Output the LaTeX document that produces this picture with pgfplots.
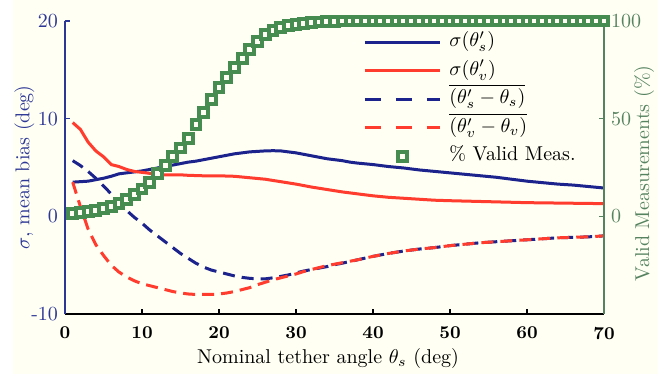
\documentclass[border=0pt]{standalone}
\usepackage{pgfplots}
\pgfplotsset{compat=1.18}
\definecolor{mblue}{RGB}{28,35,140}
\definecolor{tblue}{RGB}{45,55,150}
\definecolor{mred}{RGB}{255,60,45}
\definecolor{mgreen}{RGB}{70,140,80}
\definecolor{tgreen}{RGB}{85,130,95}
\definecolor{cream}{RGB}{255,255,243}
\pgfplotsset{
  linelegend/.style={legend image code/.code={\draw[##1] (0pt,0pt) -- (37.5pt,0pt);}},
  markonlylegend/.style={legend image code/.code={\path (0pt,0pt) (37.5pt,0pt); \draw[##1] plot coordinates {(18.75pt,0pt)};}},
}
\begin{document}
\begin{tikzpicture}
\useasboundingbox (-32.5pt,-30pt) rectangle (301pt,157pt);
\fill[cream] (-26pt,-30pt) rectangle (296.5pt,157pt);
\begin{axis}[
  at={(0pt,0pt)}, anchor=south west,
  scale only axis, width=269.5pt, height=146.5pt,
  xmin=0, xmax=70, ymin=-10, ymax=20,
  axis x line*=bottom, axis y line*=left,
  x axis line style={black, line width=0.6pt},
  y axis line style={tblue, line width=0.6pt},
  tick align=inside, major tick length=2.5pt,
  x tick style={black, line width=0.6pt},
  y tick style={tblue, line width=0.6pt},
  xtick={0,10,...,70},
  xticklabels={0,10,20,30,40,50,60,70},
  xticklabel style={font=\bfseries\fontsize{9}{10}\selectfont, yshift=-3pt},
  ytick={-10,0,10,20},
  yticklabels={-10,0,10,20},
  yticklabel style={text=tblue},
  xlabel={Nominal tether angle $\theta_s$ (deg)},
  xlabel style={at={(axis description cs:0.488,0)}, anchor=base, yshift=-24.5pt},
  ylabel={$\sigma$, mean bias (deg)},
  ylabel style={at={(axis description cs:0,0.5)}, anchor=base, yshift=17.75pt, text=tblue},
  clip=false,
]
\addplot[mblue, line width=1.5pt] coordinates {
(1,3.5) (2,3.55) (3,3.6) (4,3.75) (5,3.9) (6,4.1) (7,4.35) (8,4.45) (9,4.55) (10,4.65)
(11,4.8) (12,4.95) (13,5.1) (14,5.25) (15,5.4) (16,5.55) (17,5.65) (18,5.8) (19,5.95) (20,6.1)
(21,6.25) (22,6.4) (23,6.5) (24,6.6) (25,6.65) (26,6.7) (27,6.72) (28,6.7) (29,6.6) (30,6.5)
(31,6.35) (32,6.2) (33,6.05) (34,5.9) (35,5.8) (36,5.7) (37,5.55) (38,5.45) (40,5.3) (42,5.1)
(44,4.95) (46,4.75) (48,4.6) (50,4.45) (52,4.3) (54,4.15) (56,4.0) (58,3.8) (60,3.6) (62,3.45)
(64,3.3) (66,3.2) (68,3.05) (70,2.9)};
\addplot[mred, line width=1.5pt] coordinates {
(1,9.6) (2,8.9) (3,7.6) (4,6.7) (5,6.1) (6,5.3) (7,5.1) (8,4.8) (9,4.6) (10,4.5)
(11,4.4) (12,4.3) (13,4.25) (14,4.25) (15,4.25) (16,4.2) (18,4.15) (20,4.15) (22,4.1) (24,3.95)
(26,3.8) (28,3.55) (30,3.3) (32,3.0) (34,2.75) (36,2.5) (38,2.3) (40,2.1) (42,1.95) (44,1.85)
(46,1.75) (48,1.65) (50,1.6) (55,1.5) (60,1.4) (65,1.35) (70,1.3)};
\addplot[mblue, line width=1.5pt, dash pattern=on 6pt off 3.5pt] coordinates {
(1,5.7) (2,5.2) (3,4.6) (4,3.9) (5,3.1) (6,2.3) (7,1.4) (8,0.6) (9,-0.1) (10,-0.7)
(11,-1.4) (12,-2.0) (13,-2.6) (14,-3.2) (15,-3.8) (16,-4.3) (17,-4.8) (18,-5.2) (19,-5.5) (20,-5.7)
(21,-5.9) (22,-6.1) (23,-6.25) (24,-6.35) (25,-6.4) (26,-6.4) (27,-6.3) (28,-6.15) (29,-6.0) (30,-5.8)
(31,-5.6) (32,-5.45) (33,-5.3) (34,-5.15) (35,-4.95) (36,-4.8) (38,-4.45) (40,-4.1) (42,-3.8) (44,-3.55)
(46,-3.35) (48,-3.2) (50,-3.0) (52,-2.85) (54,-2.7) (56,-2.6) (58,-2.5) (60,-2.4) (62,-2.3) (64,-2.2)
(66,-2.15) (68,-2.1) (70,-2.0)};
\addplot[mred, line width=1.5pt, dash pattern=on 6pt off 3.5pt] coordinates {
(1,3.5) (2,1.0) (3,-1.3) (4,-2.9) (5,-4.0) (6,-5.0) (7,-5.7) (8,-6.2) (9,-6.6) (10,-6.9)
(11,-7.1) (12,-7.3) (13,-7.5) (14,-7.7) (15,-7.85) (16,-7.95) (17,-8.0) (18,-8.0) (19,-8.0) (20,-7.95)
(21,-7.85) (22,-7.7) (23,-7.5) (24,-7.3) (25,-7.0) (26,-6.75) (27,-6.5) (28,-6.3) (29,-6.1) (30,-5.9)
(31,-5.65) (32,-5.45) (33,-5.25) (34,-5.05) (35,-4.9) (36,-4.75) (38,-4.45) (40,-4.1) (42,-3.8) (44,-3.55)
(46,-3.35) (48,-3.2) (50,-3.0) (52,-2.85) (54,-2.7) (56,-2.6) (58,-2.5) (60,-2.4) (62,-2.3) (64,-2.2)
(66,-2.15) (68,-2.1) (70,-2.0)};
\end{axis}
\begin{axis}[
  at={(0pt,0pt)}, anchor=south west,
  scale only axis, width=269.5pt, height=146.5pt,
  xmin=0, xmax=70, ymin=-50, ymax=100,
  axis x line=none, axis y line*=right,
  y axis line style={tgreen, line width=0.6pt},
  tick align=inside, major tick length=2.5pt,
  y tick style={tgreen, line width=0.6pt},
  ytick={0,50,100},
  yticklabel style={text=tgreen},
  ylabel={Valid Measurements (\%)},
  ylabel style={at={(axis description cs:1,0.48)}, anchor=base, yshift=-22.5pt, text=tgreen},
  clip=false,
  legend style={draw=none, fill=none, at={(axis description cs:0.5529,0.965)}, anchor=north west,
    inner sep=0pt, row sep=3.75pt, column sep=4pt,
    nodes={inner sep=0pt, text height=7.5pt, text depth=3pt}},
  legend cell align=left,
  linelegend,
]
\addlegendimage{mblue, line width=1.5pt}
\addlegendentry{$\sigma(\theta'_s)$}
\addlegendimage{mred, line width=1.5pt}
\addlegendentry{$\sigma(\theta'_v)$}
\addlegendimage{mblue, line width=1.5pt, dash pattern=on 8pt off 7.5pt}
\addlegendentry{$\overline{(\theta'_s-\theta_s)}$}
\addlegendimage{mred, line width=1.5pt, dash pattern=on 8pt off 7.5pt}
\addlegendentry{$\overline{(\theta'_v-\theta_v)}$}
\addplot[mgreen, only marks, mark=square*, mark size=2.2pt,
  mark options={line width=2pt, draw=mgreen, fill=cream},
  markonlylegend]
coordinates {
(1,1.5) (2,2) (3,2.5) (4,3) (5,4) (6,5) (7,6.5) (8,8.5) (9,11) (10,14)
(11,17.5) (12,22) (13,26) (14,30.5) (15,35) (16,40) (17,47) (18,53) (19,60) (20,66)
(21,71) (22,76) (23,81) (24,85.5) (25,89.5) (26,93) (27,95) (28,96.5) (29,97.5) (30,98.2)
(31,98.8) (32,99.2) (33,99.5) (34,99.7) (35,99.9) (36,100) (37,100) (38,100) (39,100) (40,100)
(41,100) (42,100) (43,100) (44,100) (45,100) (46,100) (47,100) (48,100) (49,100) (50,100)
(51,100) (52,100) (53,100) (54,100) (55,100) (56,100) (57,100) (58,100) (59,100) (60,100)
(61,100) (62,100) (63,100) (64,100) (65,100) (66,100) (67,100) (68,100) (69,100) (70,100)};
\addlegendentry{\% Valid Meas.}
\end{axis}
\end{tikzpicture}
\end{document}
